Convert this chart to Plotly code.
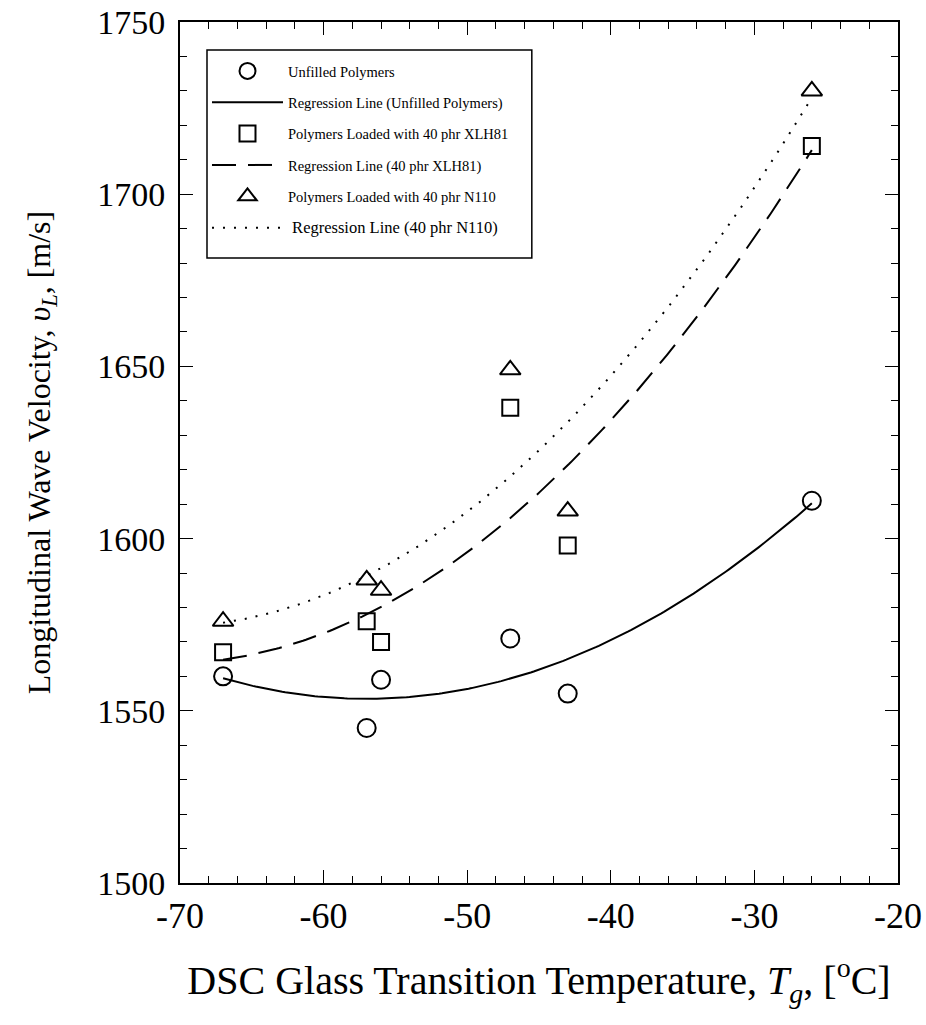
import numpy as np
import plotly.graph_objects as go

tg = [-67, -57, -56, -47, -43, -26]
unfilled = [1560, 1545, 1559, 1571, 1555, 1611]
xlh81 = [1567, 1576, 1570, 1638, 1598, 1714]
n110 = [1576, 1588, 1585, 1649, 1608, 1730]

x_ticks = [-70, -60, -50, -40, -30, -20]
y_ticks = [1500, 1550, 1600, 1650, 1700, 1750]

FONT = "Liberation Serif"

def fit(x, y):
    c = np.polyfit(x, y, 2)
    xx = np.linspace(min(x), max(x), 200)
    return xx, np.polyval(c, xx)

fig = go.Figure()
mk = dict(color="black", line=dict(color="black", width=2))

fig.add_trace(go.Scatter(x=tg, y=unfilled, mode="markers", name="Unfilled Polymers",
                         marker=dict(symbol="circle-open", size=18, **mk), legendgroup="a"))
xx, yy = fit(tg, unfilled)
fig.add_trace(go.Scatter(x=xx, y=yy, mode="lines", name="Regression Line (Unfilled Polymers)",
                         line=dict(color="black", width=2), legendgroup="b"))
fig.add_trace(go.Scatter(x=tg, y=xlh81, mode="markers", name="Polymers Loaded with 40 phr XLH81",
                         marker=dict(symbol="square-open", size=16, **mk), legendgroup="c"))
xx, yy = fit(tg, xlh81)
fig.add_trace(go.Scatter(x=xx, y=yy, mode="lines", name="Regression Line (40 phr XLH81)",
                         line=dict(color="black", width=2, dash="24px,12px"), legendgroup="d"))
fig.add_trace(go.Scatter(x=tg, y=n110, mode="markers", name="Polymers Loaded with 40 phr N110",
                         marker=dict(symbol="triangle-up-open", size=18, **mk), legendgroup="e"))
xx, yy = fit(tg, n110)
fig.add_trace(go.Scatter(x=xx, y=yy, mode="lines",
                         name="<span style='font-size:16.5px'> Regression Line (40 phr N110)</span>",
                         line=dict(color="black", width=2, dash="2px,9px"), legendgroup="f"))

axis_common = dict(
    showline=True, linecolor="black", linewidth=2, mirror="ticks",
    ticks="inside", ticklen=13, tickwidth=1.2, tickcolor="black",
    showgrid=False, zeroline=False, automargin=False, ticklabeloverflow="allow",
)

fig.update_xaxes(range=[-70, -20], tickvals=x_ticks, ticktext=[str(v) for v in x_ticks],
                 tickfont=dict(family=FONT, size=36, color="black"), ticklabelstandoff=0,
                 minor=dict(ticks="inside", ticklen=7, tickwidth=1.2, tickcolor="black", dtick=2, showgrid=False),
                 title=dict(text="DSC Glass Transition Temperature, <i>T<sub>g</sub></i>, [<sup>o</sup>C]",
                            font=dict(family=FONT, size=40, color="black"), standoff=31),
                 **axis_common)
fig.update_yaxes(range=[1500, 1750], tickvals=y_ticks, ticktext=[str(v) for v in y_ticks],
                 tickfont=dict(family=FONT, size=34, color="black"), ticklabelstandoff=6,
                 minor=dict(ticks="inside", ticklen=7, tickwidth=1.2, tickcolor="black", dtick=10, showgrid=False),
                 title=dict(text="Longitudinal Wave Velocity, <i>υ<sub>L</sub></i>, [m/s]",
                            font=dict(family=FONT, size=32, color="black"), standoff=37),
                 **axis_common)

# legend frame
fig.add_shape(type="rect", xref="paper", yref="paper", x0=0.0376, x1=0.490, y0=0.726, y1=0.9675,
              line=dict(color="black", width=1.5), fillcolor="white", layer="below")

fig.update_layout(
    width=926, height=1020,
    margin=dict(l=180, r=28, t=22, b=137),
    paper_bgcolor="white", plot_bgcolor="white",
    showlegend=True,
    legend=dict(x=0.0376, y=0.9617, xanchor="left", yanchor="top",
                bgcolor="rgba(0,0,0,0)", borderwidth=0,
                font=dict(family=FONT, size=14.5, color="black"),
                tracegroupgap=9.5, itemwidth=71),
)

fig.write_html("out.html", config={"displayModeBar": False},
               post_script="document.body.style.margin='0px';")
